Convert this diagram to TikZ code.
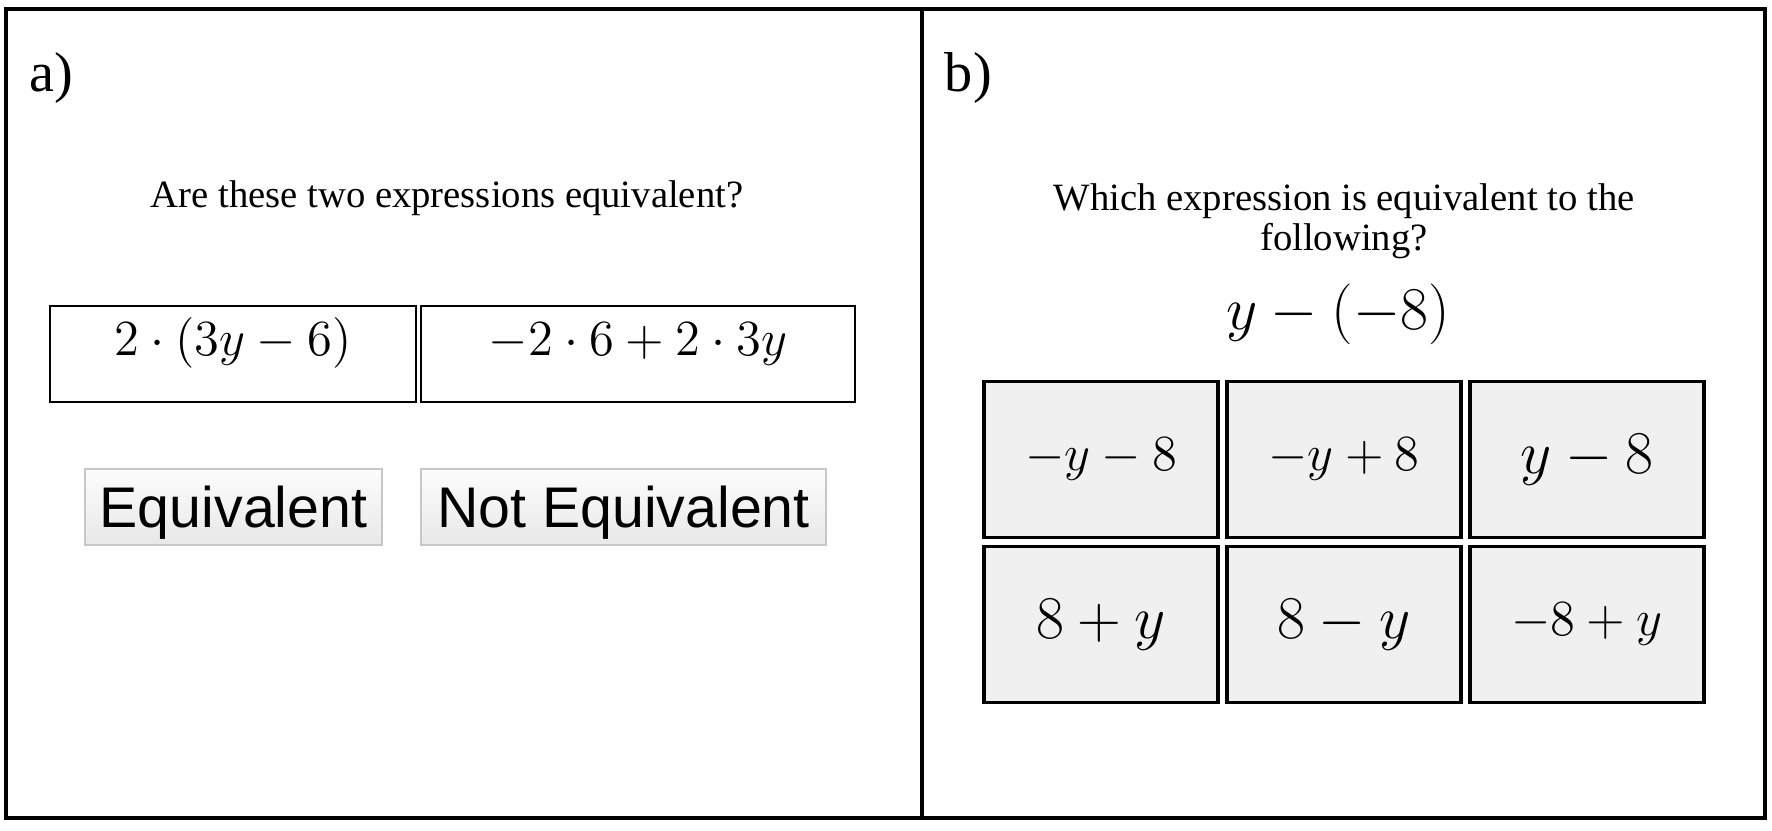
\documentclass[tikz,border=0pt]{standalone}
\usepackage[no-math]{fontspec}
\setmainfont{Liberation Serif}
\newfontfamily\btnfont{Liberation Sans}
\usetikzlibrary{positioning}

\begin{document}
\begin{tikzpicture}
    [
        node distance=1.65cm and 2.43cm, on grid,
        panel_box/.style={rectangle, draw=black, line width=1pt, minimum height=8.09cm, inner sep=0pt},
        panel_label/.style={anchor=north west, inner sep=0pt, font=\fontsize{16}{18}\selectfont},
        question_text/.style={align=center, inner sep=0pt, font=\fontsize{11}{11.4}\selectfont},
        expr_box/.style={rectangle, draw=black, line width=0.75pt, minimum height=0.96cm, inner sep=0pt, text height=0.49cm, text depth=0.47cm, font=\fontsize{14.5}{16}\selectfont},
        answer_btn/.style={rectangle, draw=black!22, line width=0.5pt, top color=black!1, bottom color=black!9, minimum height=0.76cm, inner sep=0pt, text height=0.5cm, text depth=0.1cm, font=\btnfont\fontsize{16.3}{18}\selectfont},
        choice_cell/.style={rectangle, draw=black, line width=0.9pt, fill=black!6, minimum width=2.34cm, minimum height=1.56cm, inner sep=0pt, font=\fontsize{14}{16}\selectfont},
        big_text/.style={font=\fontsize{17}{19}\selectfont},
    ]
        \useasboundingbox (0,0) rectangle (17.72,-8.30);
        % panels
        \node[panel_box, minimum width=9.16cm] (pa) at (4.64,-4.135) {};
        \node[panel_box, minimum width=8.43cm] (pb) at (13.435,-4.135) {};
        \node[panel_label] (la) at ([shift={(0.25,-0.45)}]pa.north west) {a)};
        \node[panel_label] (lb) at ([shift={(0.24,-0.45)}]pb.north west) {b)};
        % panel a
        \node[question_text] (qa) at (4.47,-1.98) {Are these two expressions equivalent?};
        \node[expr_box, minimum width=3.66cm] (ea) at (2.33,-3.54) {$2\cdot(3y-6)$};
        \node[expr_box, minimum width=4.34cm, right=4.05cm of ea] (eb) {$-2\cdot 6+2\cdot 3y$};
        \node[answer_btn, minimum width=2.97cm] (ba) at (2.335,-5.07) {Equivalent};
        \node[answer_btn, minimum width=4.05cm, right=3.90cm of ba] (bb) {Not Equivalent};
        % panel b
        \node[question_text] (qb) at (13.44,-2.21) {Which expression is equivalent to the\\following?};
        \node[inner sep=0pt, font=\fontsize{18}{20}\selectfont] (eq) at (13.38,-3.14) {$y-(-8)$};
        \node[choice_cell] (c11) at (11.01,-4.595) {$-y-8$};
        \node[choice_cell, right=of c11] (c12) {$-y+8$};
        \node[choice_cell, big_text, right=of c12] (c13) {$y-8$};
        \node[choice_cell, big_text, below=of c11] (c21) {$8+y$};
        \node[choice_cell, big_text, right=of c21] (c22) {$8-y$};
        \node[choice_cell, right=of c22] (c23) {$-8+y$};
    \end{tikzpicture}
\end{document}
